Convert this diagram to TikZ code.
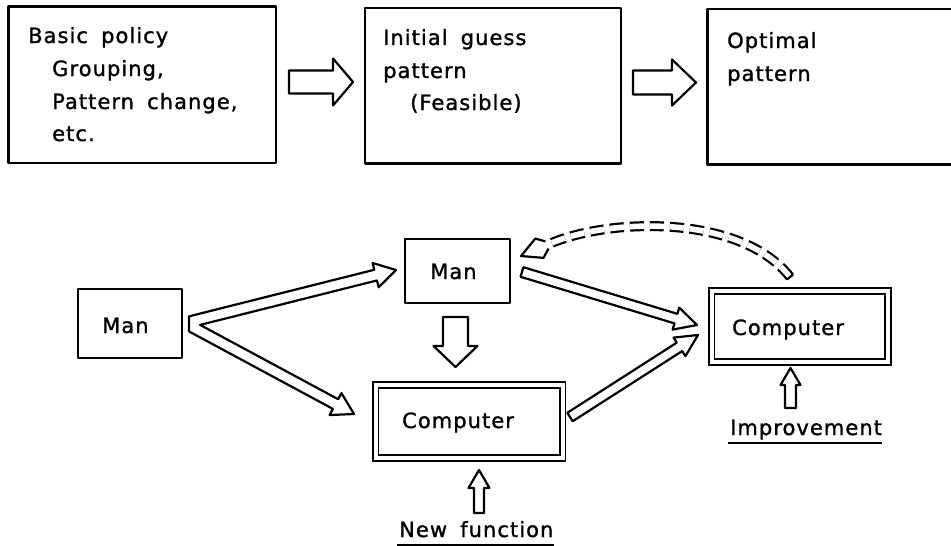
\documentclass[tikz,border=0pt]{standalone}
\usepackage{fontspec}
\setmainfont{DejaVu Sans}[LetterSpace=5,WordSpace=1.7,FakeBold=1.3]
\usetikzlibrary{calc}
\tikzset{
  lw/.style={line width=2.2pt, line join=round},
  boxnode/.style={draw, lw, inner sep=0pt, rectangle},
  dblbox/.style={draw, line width=1.9pt, double, double distance=4pt, inner sep=0pt, rectangle},
  txt/.style={anchor=base west, inner sep=0pt, font=\fontsize{21}{25}\selectfont},
  arrowshape/.style={draw, lw, fill=white},
  dashpat/.style={dash pattern=on 14pt off 6pt},
}
\newcommand{\blockarr}[5]{%
  \coordinate (ba-b) at ($(#2)!#5!(#1)$);
  \draw[arrowshape] ($(#1)!#3!90:(#2)$) -- ($(ba-b)!#3!90:(#2)$) -- ($(ba-b)!#4!90:(#2)$) -- (#2)
     -- ($(ba-b)!#4!-90:(#2)$) -- ($(ba-b)!#3!-90:(#2)$) -- ($(#1)!#3!-90:(#2)$) -- cycle;
}
\begin{document}
\begin{tikzpicture}[x=1pt, y=-1pt]
\useasboundingbox (0,0) rectangle (951,546);

% top boxes
\node[boxnode, minimum width=267.5pt, minimum height=156.5pt] (box1) at (142.25,84.75) {};
\node[boxnode, minimum width=256pt, minimum height=155.5pt] (box2) at (493,85.75) {};
\node[boxnode, minimum width=247.5pt, minimum height=155.5pt] (box3) at (831.25,86.75) {};

\node[txt] (t1a) at (28,43) {Basic policy};
\node[txt] (t1b) at (52,76) {Grouping,};
\node[txt] (t1c) at (52,109) {Pattern change,};
\node[txt] (t1d) at (52,141) {etc.};
\node[txt] (t2a) at (383,45) {Initial guess};
\node[txt] (t2b) at (383,78) {pattern};
\node[txt] (t2c) at (410,110) {(Feasible)};
\node[txt] (t3a) at (727,48) {Optimal};
\node[txt] (t3b) at (727,81) {pattern};

% top block arrows
\coordinate (a1s) at (289,82);
\coordinate (a1e) at (353,82);
\coordinate (a2s) at (633,82.5);
\coordinate (a2e) at (696,82.5);
\blockarr{a1s}{a1e}{11.5pt}{23.5pt}{20pt}
\blockarr{a2s}{a2e}{12pt}{23pt}{24pt}

% lower boxes
\node[boxnode, minimum width=104pt, minimum height=69pt] (man1) at (130,323.5) {};
\node[boxnode, minimum width=105pt, minimum height=64pt] (man2) at (457.5,271) {};
\node[dblbox, minimum width=187pt, minimum height=73pt] (comp1) at (469,421.5) {};
\node[dblbox, minimum width=176.5pt, minimum height=71pt] (comp2) at (799.75,326.5) {};

\node[txt] (man1t) at (102,333) {Man};
\node[txt] (man2t) at (430,279) {Man};
\node[txt] (comp1t) at (402,428) {Computer};
\node[txt] (comp2t) at (732,335) {Computer};
\node[txt] (nf) at (399,537) {New function};
\node[txt] (imp) at (730,435) {Improvement};
\draw[lw] ($(nf.base west)+(-2,8)$) -- ($(nf.base east)+(0,8)$);
\draw[lw] ($(imp.base west)+(-2,8)$) -- ($(imp.base east)+(0,8)$);

% V-shaped double block arrow from man1
\coordinate (S) at (185,323);
\coordinate (T1) at (396,270);
\coordinate (T2) at (354,414);
\coordinate (B1) at ($(T1)!21pt!(S)$);
\coordinate (B2) at ($(T2)!21pt!(S)$);
\coordinate (U1) at ($(S)!5.5pt!90:(T1)$);
\coordinate (U2) at ($(B1)!5.5pt!90:(T1)$);
\coordinate (U3) at ($(S)!5.5pt!-90:(T1)$);
\coordinate (U4) at ($(B1)!5.5pt!-90:(T1)$);
\coordinate (L1) at ($(S)!5.5pt!-90:(T2)$);
\coordinate (L2) at ($(B2)!5.5pt!-90:(T2)$);
\coordinate (L3) at ($(S)!5.5pt!90:(T2)$);
\coordinate (L4) at ($(B2)!5.5pt!90:(T2)$);
\coordinate (Vt) at (189,200);
\coordinate (Vb) at (189,450);
\draw[arrowshape] (intersection of U1--U2 and Vt--Vb) -- (U2) -- ($(B1)!12.5pt!90:(T1)$) -- (T1)
  -- ($(B1)!12.5pt!-90:(T1)$) -- (U4) -- (intersection of U3--U4 and L3--L4) -- (L4)
  -- ($(B2)!12.5pt!90:(T2)$) -- (T2) -- ($(B2)!12.5pt!-90:(T2)$) -- (L2)
  -- (intersection of L1--L2 and Vt--Vb) -- cycle;

% down arrow man2 -> comp1
\coordinate (d1s) at (455.5,317);
\coordinate (d1e) at (455.5,367);
\blockarr{d1s}{d1e}{12.5pt}{22pt}{21pt}

% arrows into comp2
\coordinate (m2s) at (522,272);
\coordinate (m2e) at (697,325);
\blockarr{m2s}{m2e}{5pt}{11.5pt}{22pt}
\coordinate (c1s) at (570,417);
\coordinate (c1e) at (698,335);
\blockarr{c1s}{c1e}{5pt}{11pt}{22pt}

% up arrows
\coordinate (u1s) at (479,513);
\coordinate (u1e) at (479,470);
\blockarr{u1s}{u1e}{5pt}{10.5pt}{18pt}
\coordinate (u2s) at (790.5,408);
\coordinate (u2e) at (790.5,368);
\blockarr{u2s}{u2e}{5.5pt}{10pt}{17pt}

% dashed feedback arrow comp2 -> man2
\coordinate (dS) at (790,277);
\coordinate (dC1) at (740,213);
\coordinate (dC2) at (605,218);
\coordinate (dE) at (547,245);
\coordinate (dT) at (521,256);
\draw[line width=10pt, dashpat] (dS) .. controls (dC1) and (dC2) .. (dE);
\draw[white, line width=5.6pt, dashpat] (dS) .. controls (dC1) and (dC2) .. (dE);
\draw[lw] ($(dS)!3.9pt!90:(dC1)$) -- ($(dS)!3.9pt!-90:(dC1)$);
\coordinate (dB) at ($(dT)!20pt!(dE)$);
\draw[lw] ($(dE)!3.9pt!90:(dT)$) -- ($(dB)!10.5pt!90:(dT)$) -- (dT) -- ($(dB)!10.5pt!-90:(dT)$) -- ($(dE)!3.9pt!-90:(dT)$);
\end{tikzpicture}
\end{document}
